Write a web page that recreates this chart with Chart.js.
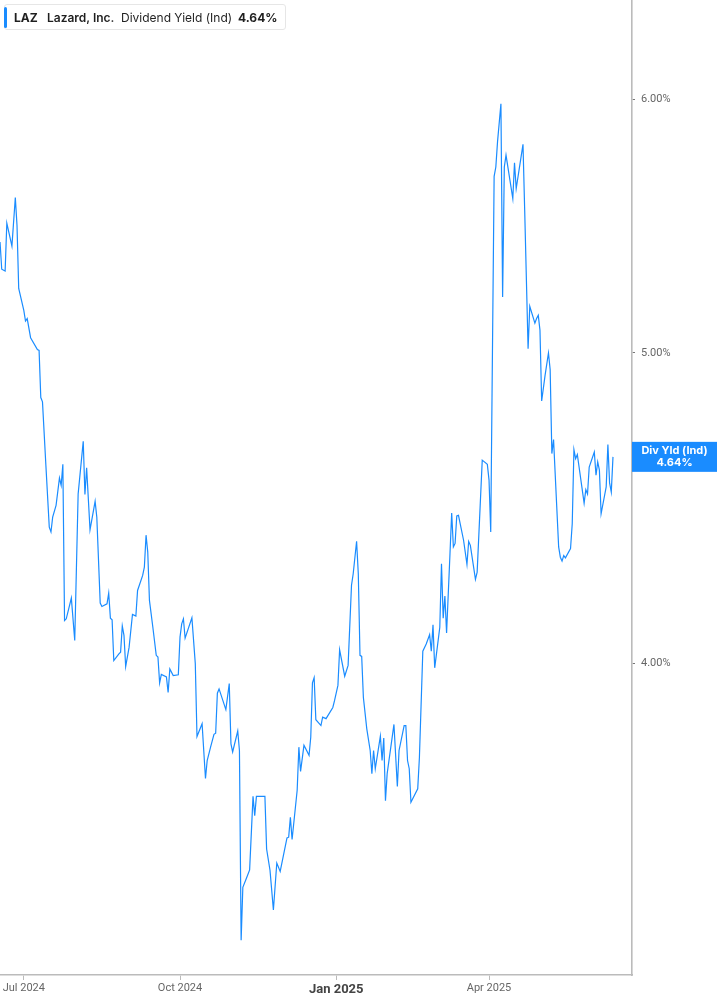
<!DOCTYPE html>
<html>
<head>
<meta charset="utf-8">
<script src="https://cdn.jsdelivr.net/npm/chart.js@4.4.1/dist/chart.umd.min.js"></script>
<style>
  html, body { margin: 0; padding: 0; background: #fff; }
  #wrap { position: relative; width: 717px; height: 1005px; overflow: hidden; }
  canvas { position: absolute; left: 0; top: 0; }
  #hdr { position: absolute; left: 4px; top: 4px; width: 282px; height: 26px; box-sizing: border-box;
         border: 1px solid #e6e6e6; border-radius: 3px; background: #fff;
         font-family: Inter, "Noto Sans", sans-serif; font-size: 12px; color: #1f1f1f; }
  #hdr .bar { position: absolute; left: -1px; top: 2px; width: 3px; height: 21px; background: #1a8cff; border-radius: 2px; }
  #hdr span { position: absolute; top: 5px; white-space: nowrap; line-height: 15px; }
</style>
</head>
<body>
<div id="wrap">
  <canvas id="c" width="717" height="1005"></canvas>
  <div id="hdr">
    <div class="bar"></div>
    <span style="left:9px;font-weight:700;">LAZ</span>
    <span style="left:42px;font-weight:600;">Lazard, Inc.</span>
    <span style="left:116px;font-weight:400;">Dividend Yield (Ind)</span>
    <span style="left:233px;font-weight:700;">4.64%</span>
  </div>
</div>
<script>
const seriesName = 'Div Yld (Ind)';
const lastLabel = '4.64%';

const dates = [
 '2024-06-17','2024-06-18','2024-06-20','2024-06-21','2024-06-24','2024-06-26','2024-06-27','2024-06-28',
 '2024-07-01','2024-07-02','2024-07-03','2024-07-05','2024-07-09','2024-07-10','2024-07-11','2024-07-12',
 '2024-07-14','2024-07-16','2024-07-17','2024-07-18','2024-07-20','2024-07-22','2024-07-23','2024-07-24',
 '2024-07-25','2024-07-26','2024-07-29','2024-07-31','2024-08-02','2024-08-05','2024-08-06','2024-08-07',
 '2024-08-09','2024-08-12','2024-08-13','2024-08-15','2024-08-16','2024-08-19','2024-08-20','2024-08-21',
 '2024-08-22','2024-08-23','2024-08-26','2024-08-27','2024-08-28','2024-08-29','2024-08-30','2024-09-01',
 '2024-09-03','2024-09-05','2024-09-06','2024-09-09','2024-09-10','2024-09-11','2024-09-12','2024-09-13',
 '2024-09-15','2024-09-17','2024-09-18','2024-09-19','2024-09-20','2024-09-23','2024-09-24','2024-09-25',
 '2024-09-27','2024-09-30','2024-10-01','2024-10-02','2024-10-03','2024-10-04','2024-10-08','2024-10-10',
 '2024-10-11','2024-10-14','2024-10-16','2024-10-17','2024-10-19','2024-10-21','2024-10-22','2024-10-23',
 '2024-10-24','2024-10-28','2024-10-30','2024-10-31','2024-11-01','2024-11-04','2024-11-05','2024-11-06',
 '2024-11-07','2024-11-09','2024-11-11','2024-11-13','2024-11-14','2024-11-15','2024-11-20','2024-11-21',
 '2024-11-23','2024-11-25','2024-11-27','2024-11-29','2024-12-03','2024-12-04','2024-12-05','2024-12-06',
 '2024-12-09','2024-12-10','2024-12-11','2024-12-13','2024-12-16','2024-12-17','2024-12-18','2024-12-19',
 '2024-12-20','2024-12-23','2024-12-24','2024-12-26','2024-12-30','2024-12-31','2025-01-02','2025-01-03',
 '2025-01-06','2025-01-08','2025-01-10','2025-01-11','2025-01-13','2025-01-14','2025-01-15','2025-01-16',
 '2025-01-17','2025-01-19','2025-01-21','2025-01-22','2025-01-23','2025-01-24','2025-01-27','2025-01-28',
 '2025-01-29','2025-01-30','2025-01-31','2025-02-04','2025-02-06','2025-02-07','2025-02-10','2025-02-11',
 '2025-02-12','2025-02-13','2025-02-14','2025-02-18','2025-02-19','2025-02-21','2025-02-23','2025-02-25',
 '2025-02-26','2025-02-27','2025-02-28','2025-03-03','2025-03-04','2025-03-05','2025-03-06','2025-03-07',
 '2025-03-09','2025-03-10','2025-03-11','2025-03-12','2025-03-13','2025-03-14','2025-03-17','2025-03-19',
 '2025-03-20','2025-03-21','2025-03-24','2025-03-25','2025-03-28','2025-03-31','2025-04-01','2025-04-02',
 '2025-04-04','2025-04-05','2025-04-06','2025-04-08','2025-04-09','2025-04-10','2025-04-11','2025-04-15',
 '2025-04-16','2025-04-17','2025-04-21','2025-04-22','2025-04-24','2025-04-25','2025-04-28','2025-04-29',
 '2025-04-30','2025-05-01','2025-05-02','2025-05-04','2025-05-06','2025-05-07','2025-05-08','2025-05-09',
 '2025-05-12','2025-05-13','2025-05-14','2025-05-15','2025-05-16','2025-05-19','2025-05-20','2025-05-21',
 '2025-05-22','2025-05-23','2025-05-27','2025-05-28','2025-05-29','2025-05-30','2025-06-02','2025-06-03',
 '2025-06-04','2025-06-05','2025-06-06','2025-06-09','2025-06-10','2025-06-11','2025-06-12','2025-06-13'
];

const yieldPct = [
 5.415,5.310,5.303,5.489,5.399,5.591,5.480,5.237,
 5.155,5.116,5.125,5.055,5.012,5.009,4.842,4.827,
 4.612,4.411,4.396,4.443,4.481,4.570,4.546,4.615,
 4.125,4.130,4.192,4.066,4.518,4.692,4.516,4.604,
 4.403,4.494,4.443,4.177,4.167,4.175,4.207,4.132,
 4.127,4.008,4.027,4.032,4.109,4.081,3.991,4.046,
 4.143,4.138,4.215,4.261,4.286,4.386,4.333,4.185,
 4.105,4.023,4.018,3.944,3.968,3.961,3.917,3.984,
 3.965,3.967,4.076,4.115,4.130,4.073,4.133,3.999,
 3.795,3.830,3.682,3.730,3.766,3.801,3.804,3.915,
 3.927,3.869,3.942,3.775,3.753,3.810,3.757,3.278,
 3.405,3.426,3.448,3.635,3.585,3.635,3.635,3.500,
 3.447,3.350,3.465,3.444,3.528,3.530,3.581,3.524,
 3.651,3.766,3.701,3.771,3.744,3.793,3.944,3.959,
 3.841,3.825,3.848,3.844,3.875,3.894,3.937,4.039,
 3.963,3.994,4.231,4.266,4.367,4.266,4.023,4.020,
 3.903,3.816,3.757,3.695,3.757,3.708,3.796,3.730,
 3.791,3.624,3.695,3.828,3.661,3.757,3.825,3.825,
 3.730,3.708,3.620,3.655,3.739,4.035,4.056,4.083,
 4.035,4.112,3.987,4.105,4.297,4.132,4.198,4.088,
 4.328,4.456,4.349,4.360,4.447,4.449,4.370,4.295,
 4.366,4.354,4.249,4.271,4.629,4.615,4.563,4.396,
 5.677,5.715,5.819,5.981,5.205,5.715,5.764,5.587,
 5.732,5.627,5.809,5.540,5.015,5.170,5.108,5.125,
 5.137,5.082,4.830,4.920,5.000,4.941,4.651,4.698,
 4.349,4.317,4.305,4.322,4.315,4.344,4.422,4.664,
 4.634,4.648,4.488,4.532,4.518,4.606,4.656,4.579,
 4.623,4.596,4.454,4.541,4.681,4.554,4.524,4.640
];

const tickDates = ['2024-07-01','2024-10-01','2025-01-01','2025-04-01'];
const tickLabels = ['Jul 2024','Oct 2024','Jan 2025','Apr 2025'];
const yTicks = [4, 5, 6];

const BASE = Date.UTC(2024, 6, 1);
function dayNum(s) {
  const p = s.split('-').map(Number);
  return (Date.UTC(p[0], p[1] - 1, p[2]) - BASE) / 86400000;
}
const points = dates.map((d, i) => ({ x: dayNum(d), y: yieldPct[i] }));
const tickPos = tickDates.map(dayNum);

const lastBox = {
  id: 'lastBox',
  afterDraw(chart) {
    const ctx = chart.ctx;
    const ys = chart.scales.y;
    const area = chart.chartArea;
    const y = ys.getPixelForValue(yieldPct[yieldPct.length - 1]);
    const x0 = area.right, w = chart.width - area.right, h = 30;
    ctx.save();
    ctx.fillStyle = '#1a8cff';
    ctx.fillRect(x0, y - h / 2, w, h);
    ctx.fillStyle = '#ffffff';
    ctx.textAlign = 'center';
    ctx.textBaseline = 'middle';
    ctx.font = 'bold 11px Inter, "Noto Sans", sans-serif';
    ctx.fillText(seriesName, x0 + w / 2, y - 6);
    ctx.fillText(lastLabel, x0 + w / 2, y + 6);
    ctx.restore();
  }
};

new Chart(document.getElementById('c'), {
  type: 'line',
  data: {
    datasets: [{
      label: seriesName,
      data: points,
      borderColor: '#1a8cff',
      borderWidth: 1.2,
      pointRadius: 0,
      tension: 0,
      fill: false
    }]
  },
  options: {
    responsive: false,
    animation: false,
    devicePixelRatio: 1,
    layout: { padding: 0 },
    plugins: { legend: { display: false }, tooltip: { enabled: false } },
    scales: {
      x: {
        type: 'linear',
        min: -14.02,
        max: 358.2,
        afterBuildTicks(scale) { scale.ticks = tickPos.map(v => ({ value: v })); },
        afterFit(scale) { scale.height = 30; scale.paddingLeft = 0; scale.paddingRight = 0; },
        border: { display: true, color: '#bbbbbb', width: 1.6 },
        grid: { drawOnChartArea: false, drawTicks: true, tickLength: 5, color: '#bbbbbb', lineWidth: 1 },
        ticks: {
          autoSkip: false,
          maxRotation: 0,
          padding: 2,
          callback(value) { const i = tickPos.indexOf(value); return i >= 0 ? tickLabels[i] : ''; },
          color(ctx) { return ctx.tick && ctx.tick.label === 'Jan 2025' ? '#444' : '#666'; },
          font(ctx) {
            return ctx.tick && ctx.tick.label === 'Jan 2025'
              ? { family: 'Roboto, sans-serif', size: 13, weight: 'bold' }
              : { family: 'Roboto, sans-serif', size: 11 };
          }
        }
      },
      y: {
        type: 'logarithmic',
        position: 'right',
        min: 3.197,
        max: 6.444,
        afterBuildTicks(scale) { scale.ticks = yTicks.map(v => ({ value: v })); },
        afterFit(scale) { scale.width = 85; scale.paddingTop = 0; scale.paddingBottom = 0; },
        border: { display: true, color: '#bbbbbb', width: 1.6 },
        grid: { drawOnChartArea: false, drawTicks: true, tickLength: 3, color: '#777777', lineWidth: 1 },
        ticks: {
          padding: 6,
          color: '#666',
          font: { family: 'Roboto, sans-serif', size: 11 },
          callback(value) { return Number(value).toFixed(2) + '%'; }
        }
      }
    }
  },
  plugins: [lastBox]
});
</script>
</body>
</html>
